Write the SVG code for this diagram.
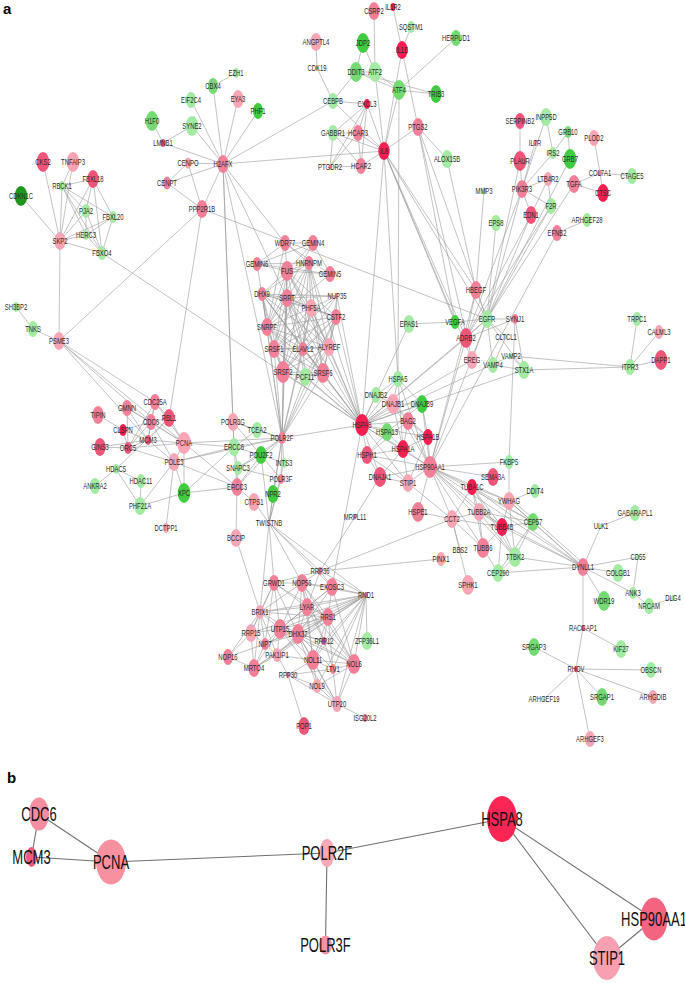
<svg xmlns="http://www.w3.org/2000/svg" width="685" height="983" viewBox="0 0 685 983">
<style>
.e path{stroke:#9a9a9a;stroke-width:.6;fill:none}
.eb path{stroke:#707070;stroke-width:1.1;fill:none}
text{font-family:"Liberation Sans",Arial,sans-serif;fill:#2a2a2a;text-anchor:middle;dominant-baseline:central}
.n text{font-size:9.5px}
.nb text{font-size:21px;fill:#111}
.lbl{font-weight:bold;font-size:15px;text-anchor:start;dominant-baseline:auto;fill:#000}
.r1{fill:#f71e52}.r2{fill:#ef5579}.r3{fill:#f38098}.r4{fill:#f8a5b5}
.g1{fill:#1e961e}.g2{fill:#3fcd3f}.g3{fill:#74db74}.g4{fill:#a3eaa3}
</style>
<rect width="685" height="983" fill="#fff"/>
<text class="lbl" x="3" y="14">a</text>
<text class="lbl" x="7" y="783">b</text>
<g id="edges-a" class="e">
<path d="M43 162L60 241"/><path d="M73 162L60 241"/><path d="M73 162L62 186"/><path d="M93 179L62 186"/><path d="M93 179L60 241"/><path d="M93 179L102 253"/><path d="M93 179L86 211"/><path d="M21 196L60 241"/><path d="M62 186L60 241"/><path d="M62 186L86 211"/><path d="M62 186L113 217"/><path d="M62 186L86 235"/><path d="M62 186L102 253"/><path d="M86 211L60 241"/><path d="M86 211L102 253"/><path d="M86 211L86 235"/><path d="M113 217L60 241"/><path d="M113 217L102 253"/><path d="M113 217L86 235"/><path d="M86 235L60 241"/><path d="M86 235L102 253"/><path d="M60 241L102 253"/><path d="M60 241L59 341"/><path d="M102 253L362 425"/><path d="M16 307L33 329"/><path d="M33 329L59 341"/><path d="M59 341L202 209"/><path d="M59 341L155 402"/><path d="M59 341L151 422"/><path d="M59 341L148 440"/><path d="M59 341L184 443"/><path d="M202 209L169 418"/><path d="M202 209L487 319"/><path d="M93 179L113 217"/>
<path d="M213 86L223 164"/><path d="M213 86L236 73"/><path d="M191 100L223 164"/><path d="M192 126L163 143"/><path d="M192 126L223 164"/><path d="M152 121L163 143"/><path d="M163 143L223 164"/><path d="M188 163L223 164"/><path d="M167 183L223 164"/><path d="M167 183L188 163"/><path d="M167 183L202 209"/><path d="M188 163L202 209"/><path d="M202 209L223 164"/><path d="M238 99L223 164"/><path d="M258 111L223 164"/><path d="M333 101L223 164"/><path d="M384 151L223 164"/><path d="M223 164L285 243"/><path d="M223 164L287 298"/><path d="M223 164L282 438"/><path d="M223 164L234 447"/><path d="M223 164L233 422"/>
<path d="M374 11L375 72"/><path d="M375 72L384 151"/><path d="M393 7L402 50"/><path d="M411 27L402 50"/><path d="M456 38L399 90"/><path d="M363 43L356 72"/><path d="M363 43L375 72"/><path d="M356 72L375 72"/><path d="M356 72L399 90"/><path d="M356 72L436 94"/><path d="M375 72L399 90"/><path d="M399 90L436 94"/><path d="M356 72L333 101"/><path d="M316 42L317 68"/><path d="M317 68L333 101"/><path d="M399 90L384 151"/><path d="M399 90L398 379"/><path d="M402 50L384 151"/><path d="M402 50L418 127"/><path d="M367 104L384 151"/><path d="M367 104L333 133"/><path d="M367 104L358 133"/><path d="M367 104L361 166"/><path d="M367 104L330 167"/><path d="M367 104L333 101"/><path d="M333 133L358 133"/><path d="M333 133L361 166"/><path d="M333 133L330 167"/><path d="M358 133L361 166"/><path d="M358 133L330 167"/><path d="M358 133L384 151"/><path d="M361 166L384 151"/><path d="M333 133L384 151"/><path d="M330 167L361 166"/><path d="M418 127L384 151"/><path d="M447 159L418 127"/><path d="M447 159L476 290"/><path d="M333 101L384 151"/><path d="M384 151L362 425"/><path d="M384 151L398 379"/><path d="M384 151L466 338"/><path d="M384 151L487 319"/><path d="M384 151L476 290"/><path d="M384 151L472 360"/><path d="M384 151L455 322"/><path d="M418 127L487 319"/><path d="M418 127L455 322"/><path d="M418 127L472 360"/>
<path d="M520 121L520 161"/><path d="M546 117L553 153"/><path d="M546 117L522 189"/><path d="M535 143L522 189"/><path d="M568 132L570 159"/><path d="M568 132L553 153"/><path d="M553 153L522 189"/><path d="M520 161L522 189"/><path d="M594 138L600 173"/><path d="M600 173L632 176"/><path d="M600 173L603 193"/><path d="M574 184L603 193"/><path d="M574 184L600 173"/><path d="M548 179L522 189"/><path d="M548 179L551 206"/><path d="M548 179L531 215"/><path d="M522 189L551 206"/><path d="M522 189L531 215"/><path d="M574 184L487 319"/><path d="M557 233L587 220"/><path d="M557 233L430 467"/><path d="M496 223L487 319"/><path d="M484 191L476 290"/><path d="M520 161L487 319"/><path d="M522 189L487 319"/><path d="M522 189L466 338"/><path d="M531 215L487 319"/><path d="M531 215L466 338"/><path d="M551 206L487 319"/><path d="M551 206L466 338"/><path d="M570 159L487 319"/><path d="M476 290L487 319"/><path d="M476 290L466 338"/><path d="M487 319L466 338"/><path d="M487 319L515 319"/><path d="M455 322L487 319"/><path d="M409 324L455 322"/><path d="M487 319L472 360"/><path d="M487 319L506 337"/><path d="M487 319L524 370"/><path d="M487 319L493 365"/><path d="M515 319L524 370"/><path d="M515 319L509 462"/><path d="M511 356L524 370"/><path d="M511 356L630 367"/><path d="M524 370L630 367"/><path d="M493 365L524 370"/><path d="M506 337L493 365"/><path d="M630 367L637 319"/><path d="M630 367L659 332"/><path d="M630 367L661 360"/><path d="M524 370L362 425"/><path d="M487 319L430 467"/><path d="M487 319L362 425"/><path d="M466 338L362 425"/><path d="M466 338L430 467"/><path d="M511 356L362 425"/><path d="M472 360L362 425"/><path d="M476 290L430 467"/><path d="M409 324L362 425"/><path d="M515 319L466 338"/>
<path d="M285 243L313 243"/><path d="M285 243L257 264"/><path d="M285 243L330 274"/><path d="M285 243L267 327"/><path d="M285 243L309 263"/><path d="M285 243L287 271"/><path d="M313 243L257 264"/><path d="M313 243L330 274"/><path d="M313 243L267 327"/><path d="M313 243L287 271"/><path d="M257 264L330 274"/><path d="M257 264L267 327"/><path d="M257 264L287 271"/><path d="M257 264L309 263"/><path d="M330 274L267 327"/><path d="M330 274L287 271"/><path d="M309 263L287 271"/><path d="M309 263L287 298"/><path d="M309 263L274 349"/><path d="M309 263L329 347"/><path d="M309 263L283 372"/><path d="M309 263L262 294"/><path d="M309 263L311 308"/><path d="M309 263L303 349"/><path d="M309 263L323 373"/><path d="M287 271L262 294"/><path d="M287 271L287 298"/><path d="M287 271L274 349"/><path d="M287 271L283 372"/><path d="M287 271L311 308"/><path d="M287 271L303 349"/><path d="M287 271L267 327"/><path d="M287 271L329 347"/><path d="M287 271L336 317"/><path d="M262 294L287 298"/><path d="M262 294L267 327"/><path d="M262 294L274 349"/><path d="M262 294L283 372"/><path d="M262 294L303 349"/><path d="M262 294L329 347"/><path d="M262 294L311 308"/><path d="M262 294L336 317"/><path d="M262 294L323 373"/><path d="M262 294L337 296"/><path d="M287 298L311 308"/><path d="M287 298L336 317"/><path d="M287 298L267 327"/><path d="M287 298L274 349"/><path d="M287 298L283 372"/><path d="M287 298L303 349"/><path d="M287 298L329 347"/><path d="M287 298L337 296"/><path d="M287 298L323 373"/><path d="M287 298L305 377"/><path d="M337 296L329 347"/><path d="M337 296L274 349"/><path d="M337 296L311 308"/><path d="M337 296L283 372"/><path d="M337 296L336 317"/><path d="M311 308L336 317"/><path d="M311 308L267 327"/><path d="M311 308L274 349"/><path d="M311 308L283 372"/><path d="M311 308L303 349"/><path d="M311 308L329 347"/><path d="M311 308L323 373"/><path d="M336 317L267 327"/><path d="M336 317L274 349"/><path d="M336 317L329 347"/><path d="M336 317L305 377"/><path d="M336 317L323 373"/><path d="M336 317L303 349"/><path d="M336 317L283 372"/><path d="M267 327L274 349"/><path d="M267 327L283 372"/><path d="M267 327L303 349"/><path d="M267 327L329 347"/><path d="M267 327L323 373"/><path d="M274 349L303 349"/><path d="M274 349L283 372"/><path d="M274 349L329 347"/><path d="M274 349L323 373"/><path d="M274 349L305 377"/><path d="M303 349L329 347"/><path d="M303 349L283 372"/><path d="M303 349L323 373"/><path d="M303 349L305 377"/><path d="M329 347L283 372"/><path d="M329 347L323 373"/><path d="M329 347L305 377"/><path d="M283 372L305 377"/><path d="M283 372L323 373"/><path d="M305 377L323 373"/>
<path d="M274 349L362 425"/><path d="M283 372L362 425"/><path d="M323 373L362 425"/><path d="M305 377L362 425"/><path d="M303 349L362 425"/><path d="M329 347L362 425"/><path d="M336 317L362 425"/><path d="M337 296L362 425"/><path d="M311 308L362 425"/><path d="M267 327L362 425"/><path d="M262 294L362 425"/><path d="M309 263L362 425"/><path d="M287 271L362 425"/><path d="M287 298L362 425"/>
<path d="M274 349L282 438"/><path d="M283 372L282 438"/><path d="M305 377L282 438"/><path d="M267 327L282 438"/><path d="M287 298L282 438"/><path d="M303 349L282 438"/><path d="M323 373L282 438"/><path d="M336 317L282 438"/><path d="M329 347L282 438"/><path d="M262 294L282 438"/><path d="M287 271L282 438"/><path d="M311 308L282 438"/>
<path d="M155 402L151 422"/><path d="M155 402L169 418"/><path d="M155 402L184 443"/><path d="M155 402L148 440"/><path d="M155 402L128 448"/><path d="M127 408L151 422"/><path d="M127 408L148 440"/><path d="M127 408L128 448"/><path d="M127 408L184 443"/><path d="M98 415L123 430"/><path d="M169 418L151 422"/><path d="M169 418L184 443"/><path d="M169 418L148 440"/><path d="M169 418L116 469"/><path d="M116 469L95 486"/><path d="M116 469L141 481"/><path d="M116 469L140 506"/><path d="M141 481L140 506"/><path d="M140 506L174 462"/><path d="M140 506L184 493"/><path d="M184 493L237 487"/><path d="M184 493L174 462"/><path d="M184 493L234 447"/><path d="M174 462L166 528"/><path d="M174 462L184 443"/><path d="M174 462L151 422"/><path d="M174 462L148 440"/><path d="M174 462L128 448"/><path d="M174 462L234 447"/><path d="M174 462L237 487"/><path d="M174 462L282 438"/><path d="M123 430L151 422"/><path d="M123 430L148 440"/><path d="M123 430L128 448"/><path d="M148 440L184 443"/><path d="M148 440L128 448"/><path d="M148 440L151 422"/><path d="M128 448L100 447"/><path d="M128 448L151 422"/><path d="M128 448L184 443"/><path d="M100 447L148 440"/><path d="M184 443L234 447"/><path d="M184 443L282 438"/><path d="M184 443L151 422"/><path d="M184 443L237 487"/><path d="M184 443L184 493"/><path d="M233 422L282 438"/><path d="M233 422L257 430"/><path d="M233 422L234 447"/><path d="M233 422L281 479"/><path d="M257 430L282 438"/><path d="M257 430L234 447"/><path d="M234 447L282 438"/><path d="M234 447L261 455"/><path d="M234 447L238 468"/><path d="M234 447L237 487"/><path d="M261 455L282 438"/><path d="M261 455L238 468"/><path d="M261 455L237 487"/><path d="M261 455L284 463"/><path d="M284 463L282 438"/><path d="M238 468L282 438"/><path d="M281 479L282 438"/><path d="M281 479L238 468"/><path d="M273 494L269 523"/><path d="M254 502L269 523"/><path d="M254 502L237 487"/><path d="M237 487L282 438"/><path d="M237 487L238 468"/><path d="M282 438L269 523"/><path d="M281 479L269 523"/><path d="M261 455L269 523"/><path d="M284 463L269 523"/><path d="M282 438L362 425"/><path d="M282 438L273 494"/><path d="M236 538L237 487"/><path d="M236 538L260 612"/><path d="M269 523L274 583"/><path d="M269 523L260 612"/><path d="M269 523L302 583"/><path d="M269 523L320 571"/><path d="M269 523L366 595"/><path d="M269 523L332 587"/>
<path d="M362 425L376 395"/><path d="M362 425L393 404"/><path d="M362 425L422 404"/><path d="M362 425L408 421"/><path d="M362 425L387 432"/><path d="M362 425L428 437"/><path d="M362 425L403 449"/><path d="M362 425L367 455"/><path d="M362 425L380 477"/><path d="M362 425L408 483"/><path d="M362 425L430 467"/><path d="M362 425L398 379"/><path d="M398 379L393 404"/><path d="M398 379L422 404"/><path d="M398 379L430 467"/><path d="M398 379L376 395"/><path d="M398 379L403 449"/><path d="M376 395L393 404"/><path d="M393 404L422 404"/><path d="M393 404L408 421"/><path d="M393 404L403 449"/><path d="M393 404L428 437"/><path d="M393 404L430 467"/><path d="M422 404L428 437"/><path d="M422 404L430 467"/><path d="M422 404L387 432"/><path d="M408 421L403 449"/><path d="M408 421L428 437"/><path d="M408 421L430 467"/><path d="M408 421L367 455"/><path d="M387 432L403 449"/><path d="M387 432L367 455"/><path d="M428 437L430 467"/><path d="M428 437L403 449"/><path d="M428 437L408 483"/><path d="M403 449L367 455"/><path d="M403 449L430 467"/><path d="M403 449L408 483"/><path d="M403 449L380 477"/><path d="M367 455L380 477"/><path d="M367 455L408 483"/><path d="M367 455L430 467"/><path d="M380 477L408 483"/><path d="M380 477L430 467"/><path d="M408 483L430 467"/><path d="M362 425L332 587"/><path d="M380 477L355 517"/><path d="M355 517L320 571"/><path d="M418 512L452 519"/><path d="M418 512L430 467"/>
<path d="M430 467L472 487"/><path d="M430 467L452 519"/><path d="M430 467L479 512"/><path d="M430 467L502 527"/><path d="M430 467L483 548"/><path d="M430 467L509 501"/><path d="M430 467L509 462"/><path d="M430 467L493 477"/><path d="M430 467L533 522"/><path d="M430 467L583 567"/><path d="M430 467L515 557"/><path d="M408 483L452 519"/>
<path d="M509 462L509 501"/><path d="M472 487L509 501"/><path d="M472 487L479 512"/><path d="M472 487L502 527"/><path d="M472 487L483 548"/><path d="M472 487L452 519"/><path d="M472 487L533 522"/><path d="M472 487L515 557"/><path d="M472 487L583 567"/><path d="M509 501L535 491"/><path d="M509 501L533 522"/><path d="M509 501L515 557"/><path d="M509 501L583 567"/><path d="M511 499L584 564"/><path d="M509 501L502 527"/><path d="M452 519L479 512"/><path d="M452 519L502 527"/><path d="M452 519L483 548"/><path d="M452 519L468 585"/><path d="M452 519L460 550"/><path d="M479 512L502 527"/><path d="M479 512L483 548"/><path d="M479 512L533 522"/><path d="M479 512L515 557"/><path d="M479 512L583 567"/><path d="M502 527L483 548"/><path d="M502 527L515 557"/><path d="M502 527L498 573"/><path d="M502 527L533 522"/><path d="M502 527L583 567"/><path d="M483 548L498 573"/><path d="M515 557L498 573"/><path d="M515 557L533 522"/><path d="M515 557L583 567"/><path d="M533 522L583 567"/><path d="M498 573L583 567"/><path d="M498 573L533 522"/><path d="M583 567L601 526"/><path d="M601 526L635 513"/><path d="M583 567L638 557"/><path d="M583 567L618 573"/><path d="M583 567L604 601"/><path d="M583 567L633 593"/><path d="M583 567L583 628"/><path d="M638 557L633 593"/><path d="M633 593L649 606"/><path d="M649 606L673 598"/><path d="M583 628L621 649"/><path d="M583 628L576 669"/><path d="M576 669L534 647"/><path d="M576 669L651 670"/><path d="M576 669L544 699"/><path d="M576 669L602 697"/><path d="M576 669L653 697"/><path d="M576 669L590 739"/><path d="M320 571L452 519"/><path d="M320 571L441 559"/>
<path d="M320 571L302 583"/><path d="M320 571L332 587"/><path d="M320 571L366 595"/><path d="M320 571L274 583"/><path d="M320 571L307 607"/><path d="M274 583L302 583"/><path d="M274 583L260 612"/><path d="M274 583L280 629"/><path d="M274 583L307 607"/><path d="M274 583L328 617"/><path d="M274 583L298 634"/><path d="M274 583L265 644"/><path d="M274 583L251 633"/><path d="M302 583L332 587"/><path d="M302 583L307 607"/><path d="M302 583L328 617"/><path d="M302 583L280 629"/><path d="M302 583L298 634"/><path d="M302 583L260 612"/><path d="M302 583L313 660"/><path d="M302 583L366 595"/><path d="M302 583L324 641"/><path d="M302 583L354 664"/><path d="M332 587L366 595"/><path d="M332 587L307 607"/><path d="M332 587L328 617"/><path d="M332 587L298 634"/><path d="M332 587L280 629"/><path d="M332 587L354 664"/><path d="M366 595L260 612"/><path d="M366 595L307 607"/><path d="M366 595L328 617"/><path d="M366 595L280 629"/><path d="M366 595L298 634"/><path d="M366 595L265 644"/><path d="M366 595L313 660"/><path d="M366 595L354 664"/><path d="M366 595L333 669"/><path d="M366 595L337 704"/><path d="M366 595L324 641"/><path d="M366 595L254 668"/><path d="M366 595L277 655"/><path d="M366 595L367 641"/><path d="M366 595L317 686"/><path d="M366 595L251 633"/><path d="M260 612L307 607"/><path d="M260 612L328 617"/><path d="M260 612L251 633"/><path d="M260 612L280 629"/><path d="M260 612L265 644"/><path d="M260 612L228 657"/><path d="M260 612L254 668"/><path d="M260 612L298 634"/><path d="M260 612L277 655"/><path d="M307 607L328 617"/><path d="M307 607L280 629"/><path d="M307 607L298 634"/><path d="M307 607L313 660"/><path d="M307 607L324 641"/><path d="M307 607L354 664"/><path d="M328 617L280 629"/><path d="M328 617L298 634"/><path d="M328 617L324 641"/><path d="M328 617L313 660"/><path d="M328 617L354 664"/><path d="M328 617L265 644"/><path d="M328 617L254 668"/><path d="M328 617L333 669"/><path d="M251 633L280 629"/><path d="M251 633L265 644"/><path d="M251 633L228 657"/><path d="M251 633L254 668"/><path d="M280 629L298 634"/><path d="M280 629L265 644"/><path d="M280 629L277 655"/><path d="M280 629L313 660"/><path d="M280 629L254 668"/><path d="M280 629L324 641"/><path d="M280 629L354 664"/><path d="M280 629L337 704"/><path d="M298 634L324 641"/><path d="M298 634L313 660"/><path d="M298 634L265 644"/><path d="M298 634L277 655"/><path d="M298 634L333 669"/><path d="M298 634L354 664"/><path d="M298 634L337 704"/><path d="M298 634L317 686"/><path d="M324 641L354 664"/><path d="M324 641L313 660"/><path d="M324 641L333 669"/><path d="M265 644L277 655"/><path d="M265 644L254 668"/><path d="M265 644L228 657"/><path d="M277 655L254 668"/><path d="M277 655L313 660"/><path d="M277 655L288 675"/><path d="M228 657L254 668"/><path d="M313 660L354 664"/><path d="M313 660L333 669"/><path d="M313 660L288 675"/><path d="M313 660L317 686"/><path d="M313 660L337 704"/><path d="M354 664L333 669"/><path d="M354 664L337 704"/><path d="M354 664L317 686"/><path d="M333 669L288 675"/><path d="M333 669L337 704"/><path d="M288 675L317 686"/><path d="M288 675L304 726"/><path d="M288 675L337 704"/><path d="M317 686L337 704"/><path d="M337 704L365 718"/>
</g>
<g id="edges-b" class="eb">
<path d="M39 814L31.5 857"/><path d="M39 814L111 862"/><path d="M31.5 857L111 862"/><path d="M111 862L327 853"/><path d="M327 853L325.5 945"/><path d="M327 853L502 819"/><path d="M502 819L654 919"/><path d="M502 819L607 958"/><path d="M654 919L607 958"/>
</g>
<g id="nodes-a" class="n">
<g id="n-CBX4"><ellipse cx="213" cy="86" rx="5" ry="8" class="g3"/><text transform="translate(213 86) scale(.62 1)">CBX4</text></g>
<g id="n-EIF2C4"><ellipse cx="191" cy="100" rx="5" ry="8" class="g4"/><text transform="translate(191 100) scale(.62 1)">EIF2C4</text></g>
<g id="n-H1F0"><ellipse cx="152" cy="121" rx="6.3" ry="10" class="g3"/><text transform="translate(152 121) scale(.62 1)">H1F0</text></g>
<g id="n-SYNE2"><ellipse cx="192" cy="126" rx="6.3" ry="10" class="g4"/><text transform="translate(192 126) scale(.62 1)">SYNE2</text></g>
<g id="n-LMNB1"><ellipse cx="163" cy="143" rx="2.5" ry="4" class="r2"/><text transform="translate(163 143) scale(.62 1)">LMNB1</text></g>
<g id="n-CKS2"><ellipse cx="43" cy="162" rx="6.3" ry="10" class="r2"/><text transform="translate(43 162) scale(.62 1)">CKS2</text></g>
<g id="n-TNFAIP3"><ellipse cx="73" cy="162" rx="6.3" ry="10" class="r4"/><text transform="translate(73 162) scale(.62 1)">TNFAIP3</text></g>
<g id="n-H2AFX"><ellipse cx="223" cy="164" rx="5.7" ry="9" class="r3"/><text transform="translate(223 164) scale(.62 1)">H2AFX</text></g>
<g id="n-CENPO"><ellipse cx="188" cy="163" rx="3.5" ry="5.5" class="r4"/><text transform="translate(188 163) scale(.62 1)">CENPO</text></g>
<g id="n-CENPT"><ellipse cx="167" cy="183" rx="4.1" ry="6.5" class="r3"/><text transform="translate(167 183) scale(.62 1)">CENPT</text></g>
<g id="n-FBXL18"><ellipse cx="93" cy="179" rx="5.7" ry="9" class="r2"/><text transform="translate(93 179) scale(.62 1)">FBXL18</text></g>
<g id="n-RBCK1"><ellipse cx="62" cy="186" rx="3.2" ry="5" class="g4"/><text transform="translate(62 186) scale(.62 1)">RBCK1</text></g>
<g id="n-CDKN1C"><ellipse cx="21" cy="196" rx="6.3" ry="10" class="g1"/><text transform="translate(21 196) scale(.62 1)">CDKN1C</text></g>
<g id="n-PJA2"><ellipse cx="86" cy="211" rx="4.4" ry="7" class="g4"/><text transform="translate(86 211) scale(.62 1)">PJA2</text></g>
<g id="n-FBXL20"><ellipse cx="113" cy="217" rx="3.8" ry="6" class="g4"/><text transform="translate(113 217) scale(.62 1)">FBXL20</text></g>
<g id="n-PPP2R1B"><ellipse cx="202" cy="209" rx="5.7" ry="9" class="r3"/><text transform="translate(202 209) scale(.62 1)">PPP2R1B</text></g>
<g id="n-CSRP2"><ellipse cx="374" cy="11" rx="5.7" ry="9" class="r3"/><text transform="translate(374 11) scale(.62 1)">CSRP2</text></g>
<g id="n-IL1R2"><ellipse cx="393" cy="7" rx="2.5" ry="4" class="r1"/><text transform="translate(393 7) scale(.62 1)">IL1R2</text></g>
<g id="n-SQSTM1"><ellipse cx="411" cy="27" rx="3.8" ry="6" class="g4"/><text transform="translate(411 27) scale(.62 1)">SQSTM1</text></g>
<g id="n-ANGPTL4"><ellipse cx="316" cy="42" rx="5.7" ry="9" class="r4"/><text transform="translate(316 42) scale(.62 1)">ANGPTL4</text></g>
<g id="n-JDP2"><ellipse cx="363" cy="43" rx="6.3" ry="10" class="g2"/><text transform="translate(363 43) scale(.62 1)">JDP2</text></g>
<g id="n-IL1B"><ellipse cx="402" cy="50" rx="5.7" ry="9" class="r1"/><text transform="translate(402 50) scale(.62 1)">IL1B</text></g>
<g id="n-HERPUD1"><ellipse cx="456" cy="38" rx="5" ry="8" class="g3"/><text transform="translate(456 38) scale(.62 1)">HERPUD1</text></g>
<g id="n-CDK19"><ellipse cx="317" cy="68" rx="1.6" ry="2.5" class="g4"/><text transform="translate(317 68) scale(.62 1)">CDK19</text></g>
<g id="n-DDIT3"><ellipse cx="356" cy="72" rx="6.3" ry="10" class="g3"/><text transform="translate(356 72) scale(.62 1)">DDIT3</text></g>
<g id="n-ATF2"><ellipse cx="375" cy="72" rx="6.3" ry="10" class="g4"/><text transform="translate(375 72) scale(.62 1)">ATF2</text></g>
<g id="n-EZH1"><ellipse cx="236" cy="73" rx="3.2" ry="5" class="g4"/><text transform="translate(236 73) scale(.62 1)">EZH1</text></g>
<g id="n-ATF4"><ellipse cx="399" cy="90" rx="6.3" ry="10" class="g3"/><text transform="translate(399 90) scale(.62 1)">ATF4</text></g>
<g id="n-TRIB3"><ellipse cx="436" cy="94" rx="5.7" ry="9" class="g2"/><text transform="translate(436 94) scale(.62 1)">TRIB3</text></g>
<g id="n-EYA3"><ellipse cx="238" cy="99" rx="5.7" ry="9" class="r4"/><text transform="translate(238 99) scale(.62 1)">EYA3</text></g>
<g id="n-PHF1"><ellipse cx="258" cy="111" rx="5" ry="8" class="g2"/><text transform="translate(258 111) scale(.62 1)">PHF1</text></g>
<g id="n-CEBPB"><ellipse cx="333" cy="101" rx="5" ry="8" class="g4"/><text transform="translate(333 101) scale(.62 1)">CEBPB</text></g>
<g id="n-CXCL3"><ellipse cx="367" cy="104" rx="3.2" ry="5" class="r1"/><text transform="translate(367 104) scale(.62 1)">CXCL3</text></g>
<g id="n-PTGS2"><ellipse cx="418" cy="127" rx="5.7" ry="9" class="r3"/><text transform="translate(418 127) scale(.62 1)">PTGS2</text></g>
<g id="n-GABBR1"><ellipse cx="333" cy="133" rx="5" ry="8" class="g4"/><text transform="translate(333 133) scale(.62 1)">GABBR1</text></g>
<g id="n-HCAR3"><ellipse cx="358" cy="133" rx="5" ry="8" class="r3"/><text transform="translate(358 133) scale(.62 1)">HCAR3</text></g>
<g id="n-IL8"><ellipse cx="384" cy="151" rx="5.7" ry="9" class="r1"/><text transform="translate(384 151) scale(.62 1)">IL8</text></g>
<g id="n-PTGDR2"><ellipse cx="330" cy="167" rx="1.6" ry="2.5" class="r3"/><text transform="translate(330 167) scale(.62 1)">PTGDR2</text></g>
<g id="n-HCAR2"><ellipse cx="361" cy="166" rx="5" ry="8" class="r3"/><text transform="translate(361 166) scale(.62 1)">HCAR2</text></g>
<g id="n-ALOX15B"><ellipse cx="447" cy="159" rx="5.7" ry="9" class="g4"/><text transform="translate(447 159) scale(.62 1)">ALOX15B</text></g>
<g id="n-SERPINB2"><ellipse cx="520" cy="121" rx="5" ry="8" class="r2"/><text transform="translate(520 121) scale(.62 1)">SERPINB2</text></g>
<g id="n-INPP5D"><ellipse cx="546" cy="117" rx="5.7" ry="9" class="g4"/><text transform="translate(546 117) scale(.62 1)">INPP5D</text></g>
<g id="n-GRB10"><ellipse cx="568" cy="132" rx="3.8" ry="6" class="g3"/><text transform="translate(568 132) scale(.62 1)">GRB10</text></g>
<g id="n-PLOD2"><ellipse cx="594" cy="138" rx="5" ry="8" class="r4"/><text transform="translate(594 138) scale(.62 1)">PLOD2</text></g>
<g id="n-IL7R"><ellipse cx="535" cy="143" rx="1.9" ry="3" class="r3"/><text transform="translate(535 143) scale(.62 1)">IL7R</text></g>
<g id="n-IRS2"><ellipse cx="553" cy="153" rx="3.8" ry="6" class="g4"/><text transform="translate(553 153) scale(.62 1)">IRS2</text></g>
<g id="n-GRB7"><ellipse cx="570" cy="159" rx="6.3" ry="10" class="g2"/><text transform="translate(570 159) scale(.62 1)">GRB7</text></g>
<g id="n-PLAUR"><ellipse cx="520" cy="161" rx="6.3" ry="10" class="r2"/><text transform="translate(520 161) scale(.62 1)">PLAUR</text></g>
<g id="n-COL7A1"><ellipse cx="600" cy="173" rx="1.9" ry="3" class="r3"/><text transform="translate(600 173) scale(.62 1)">COL7A1</text></g>
<g id="n-CTAGE5"><ellipse cx="632" cy="176" rx="5" ry="8" class="g4"/><text transform="translate(632 176) scale(.62 1)">CTAGE5</text></g>
<g id="n-LTB4R2"><ellipse cx="548" cy="179" rx="4.4" ry="7" class="r4"/><text transform="translate(548 179) scale(.62 1)">LTB4R2</text></g>
<g id="n-TGFA"><ellipse cx="574" cy="184" rx="5.7" ry="9" class="r3"/><text transform="translate(574 184) scale(.62 1)">TGFA</text></g>
<g id="n-PIK3R3"><ellipse cx="522" cy="189" rx="5.7" ry="9" class="r3"/><text transform="translate(522 189) scale(.62 1)">PIK3R3</text></g>
<g id="n-CTSC"><ellipse cx="603" cy="193" rx="5.7" ry="9" class="r1"/><text transform="translate(603 193) scale(.62 1)">CTSC</text></g>
<g id="n-MMP3"><ellipse cx="484" cy="191" rx="2.2" ry="3.5" class="g4"/><text transform="translate(484 191) scale(.62 1)">MMP3</text></g>
<g id="n-F2R"><ellipse cx="551" cy="206" rx="5" ry="8" class="g4"/><text transform="translate(551 206) scale(.62 1)">F2R</text></g>
<g id="n-EDN1"><ellipse cx="531" cy="215" rx="5.7" ry="9" class="r2"/><text transform="translate(531 215) scale(.62 1)">EDN1</text></g>
<g id="n-EPS8"><ellipse cx="496" cy="223" rx="5" ry="8" class="g4"/><text transform="translate(496 223) scale(.62 1)">EPS8</text></g>
<g id="n-ARHGEF28"><ellipse cx="587" cy="220" rx="4.4" ry="7" class="g4"/><text transform="translate(587 220) scale(.62 1)">ARHGEF28</text></g>
<g id="n-EFNB2"><ellipse cx="557" cy="233" rx="5" ry="8" class="r3"/><text transform="translate(557 233) scale(.62 1)">EFNB2</text></g>
<g id="n-HBEGF"><ellipse cx="476" cy="290" rx="5.7" ry="9" class="r3"/><text transform="translate(476 290) scale(.62 1)">HBEGF</text></g>
<g id="n-EGFR"><ellipse cx="487" cy="319" rx="5.7" ry="9" class="g4"/><text transform="translate(487 319) scale(.62 1)">EGFR</text></g>
<g id="n-SYNJ1"><ellipse cx="515" cy="319" rx="3.2" ry="5" class="r3"/><text transform="translate(515 319) scale(.62 1)">SYNJ1</text></g>
<g id="n-VEGFA"><ellipse cx="455" cy="322" rx="4.4" ry="7" class="g2"/><text transform="translate(455 322) scale(.62 1)">VEGFA</text></g>
<g id="n-ADRB2"><ellipse cx="466" cy="338" rx="6.3" ry="10" class="r2"/><text transform="translate(466 338) scale(.62 1)">ADRB2</text></g>
<g id="n-CLTCL1"><ellipse cx="506" cy="337" rx="1.6" ry="2.5" class="g4"/><text transform="translate(506 337) scale(.62 1)">CLTCL1</text></g>
<g id="n-VAMP2"><ellipse cx="511" cy="356" rx="1.6" ry="2.5" class="g4"/><text transform="translate(511 356) scale(.62 1)">VAMP2</text></g>
<g id="n-EREG"><ellipse cx="472" cy="360" rx="5.7" ry="9" class="r4"/><text transform="translate(472 360) scale(.62 1)">EREG</text></g>
<g id="n-VAMP4"><ellipse cx="493" cy="365" rx="5" ry="8" class="g4"/><text transform="translate(493 365) scale(.62 1)">VAMP4</text></g>
<g id="n-STX1A"><ellipse cx="524" cy="370" rx="5.7" ry="9" class="g4"/><text transform="translate(524 370) scale(.62 1)">STX1A</text></g>
<g id="n-TRPC1"><ellipse cx="637" cy="319" rx="4.4" ry="7" class="g4"/><text transform="translate(637 319) scale(.62 1)">TRPC1</text></g>
<g id="n-CALML3"><ellipse cx="659" cy="332" rx="4.4" ry="7" class="r4"/><text transform="translate(659 332) scale(.62 1)">CALML3</text></g>
<g id="n-DAPP1"><ellipse cx="661" cy="360" rx="6.3" ry="10" class="r2"/><text transform="translate(661 360) scale(.62 1)">DAPP1</text></g>
<g id="n-ITPR3"><ellipse cx="630" cy="367" rx="5" ry="8" class="g4"/><text transform="translate(630 367) scale(.62 1)">ITPR3</text></g>
<g id="n-WDR77"><ellipse cx="285" cy="243" rx="5" ry="8" class="r3"/><text transform="translate(285 243) scale(.62 1)">WDR77</text></g>
<g id="n-GEMIN4"><ellipse cx="313" cy="243" rx="5" ry="8" class="r3"/><text transform="translate(313 243) scale(.62 1)">GEMIN4</text></g>
<g id="n-GEMIN6"><ellipse cx="257" cy="264" rx="4.4" ry="7" class="r3"/><text transform="translate(257 264) scale(.62 1)">GEMIN6</text></g>
<g id="n-HNRNPM"><ellipse cx="309" cy="263" rx="4.4" ry="7" class="r3"/><text transform="translate(309 263) scale(.62 1)">HNRNPM</text></g>
<g id="n-FUS"><ellipse cx="287" cy="271" rx="6.3" ry="10" class="r3"/><text transform="translate(287 271) scale(.62 1)">FUS</text></g>
<g id="n-GEMIN5"><ellipse cx="330" cy="274" rx="5" ry="8" class="r3"/><text transform="translate(330 274) scale(.62 1)">GEMIN5</text></g>
<g id="n-DHX9"><ellipse cx="262" cy="294" rx="4.4" ry="7" class="r3"/><text transform="translate(262 294) scale(.62 1)">DHX9</text></g>
<g id="n-SRRT"><ellipse cx="287" cy="298" rx="5.7" ry="9" class="r3"/><text transform="translate(287 298) scale(.62 1)">SRRT</text></g>
<g id="n-NUP35"><ellipse cx="337" cy="296" rx="1.6" ry="2.5" class="r4"/><text transform="translate(337 296) scale(.62 1)">NUP35</text></g>
<g id="n-PHF5A"><ellipse cx="311" cy="308" rx="5.7" ry="9" class="r4"/><text transform="translate(311 308) scale(.62 1)">PHF5A</text></g>
<g id="n-CSTF2"><ellipse cx="336" cy="317" rx="5" ry="8" class="r3"/><text transform="translate(336 317) scale(.62 1)">CSTF2</text></g>
<g id="n-SNRPF"><ellipse cx="267" cy="327" rx="5.7" ry="9" class="r3"/><text transform="translate(267 327) scale(.62 1)">SNRPF</text></g>
<g id="n-EPAS1"><ellipse cx="409" cy="324" rx="5.7" ry="9" class="g4"/><text transform="translate(409 324) scale(.62 1)">EPAS1</text></g>
<g id="n-SRSF1"><ellipse cx="274" cy="349" rx="5.7" ry="9" class="r3"/><text transform="translate(274 349) scale(.62 1)">SRSF1</text></g>
<g id="n-ELAVL2"><ellipse cx="303" cy="349" rx="4.4" ry="7" class="r3"/><text transform="translate(303 349) scale(.62 1)">ELAVL2</text></g>
<g id="n-ALYREF"><ellipse cx="329" cy="347" rx="5.7" ry="9" class="r4"/><text transform="translate(329 347) scale(.62 1)">ALYREF</text></g>
<g id="n-SRSF2"><ellipse cx="283" cy="372" rx="6.9" ry="11" class="r3"/><text transform="translate(283 372) scale(.62 1)">SRSF2</text></g>
<g id="n-PCF11"><ellipse cx="305" cy="377" rx="5.7" ry="9" class="g4"/><text transform="translate(305 377) scale(.62 1)">PCF11</text></g>
<g id="n-SRSF6"><ellipse cx="323" cy="373" rx="6.3" ry="10" class="r3"/><text transform="translate(323 373) scale(.62 1)">SRSF6</text></g>
<g id="n-HSPA5"><ellipse cx="398" cy="379" rx="5" ry="8" class="g4"/><text transform="translate(398 379) scale(.62 1)">HSPA5</text></g>
<g id="n-DNAJB2"><ellipse cx="376" cy="395" rx="5" ry="8" class="g4"/><text transform="translate(376 395) scale(.62 1)">DNAJB2</text></g>
<g id="n-DNAJB1"><ellipse cx="393" cy="404" rx="6.3" ry="10" class="r4"/><text transform="translate(393 404) scale(.62 1)">DNAJB1</text></g>
<g id="n-DNAJB9"><ellipse cx="422" cy="404" rx="5.7" ry="9" class="g2"/><text transform="translate(422 404) scale(.62 1)">DNAJB9</text></g>
<g id="n-POLR3G"><ellipse cx="233" cy="422" rx="5.7" ry="9" class="r4"/><text transform="translate(233 422) scale(.62 1)">POLR3G</text></g>
<g id="n-HSPA8"><ellipse cx="362" cy="425" rx="6.9" ry="11" class="r1"/><text transform="translate(362 425) scale(.62 1)">HSPA8</text></g>
<g id="n-BAG2"><ellipse cx="408" cy="421" rx="5.7" ry="9" class="r3"/><text transform="translate(408 421) scale(.62 1)">BAG2</text></g>
<g id="n-TCEA2"><ellipse cx="257" cy="430" rx="5" ry="8" class="g4"/><text transform="translate(257 430) scale(.62 1)">TCEA2</text></g>
<g id="n-HSPA13"><ellipse cx="387" cy="432" rx="5.7" ry="9" class="g3"/><text transform="translate(387 432) scale(.62 1)">HSPA13</text></g>
<g id="n-POLR2F"><ellipse cx="282" cy="438" rx="3.8" ry="6" class="r3"/><text transform="translate(282 438) scale(.62 1)">POLR2F</text></g>
<g id="n-HSPA1B"><ellipse cx="428" cy="437" rx="5" ry="8" class="r1"/><text transform="translate(428 437) scale(.62 1)">HSPA1B</text></g>
<g id="n-ERCC6"><ellipse cx="234" cy="447" rx="5.7" ry="9" class="g4"/><text transform="translate(234 447) scale(.62 1)">ERCC6</text></g>
<g id="n-HSPA1A"><ellipse cx="403" cy="449" rx="5.7" ry="9" class="r1"/><text transform="translate(403 449) scale(.62 1)">HSPA1A</text></g>
<g id="n-POU2F2"><ellipse cx="261" cy="455" rx="5.7" ry="9" class="g2"/><text transform="translate(261 455) scale(.62 1)">POU2F2</text></g>
<g id="n-HSPH1"><ellipse cx="367" cy="455" rx="5.7" ry="9" class="r2"/><text transform="translate(367 455) scale(.62 1)">HSPH1</text></g>
<g id="n-INTS3"><ellipse cx="284" cy="463" rx="3.2" ry="5" class="g4"/><text transform="translate(284 463) scale(.62 1)">INTS3</text></g>
<g id="n-SNAPC3"><ellipse cx="238" cy="468" rx="4.4" ry="7" class="g4"/><text transform="translate(238 468) scale(.62 1)">SNAPC3</text></g>
<g id="n-POLR3F"><ellipse cx="281" cy="479" rx="3.2" ry="5" class="r3"/><text transform="translate(281 479) scale(.62 1)">POLR3F</text></g>
<g id="n-ERCC3"><ellipse cx="237" cy="487" rx="5.7" ry="9" class="r3"/><text transform="translate(237 487) scale(.62 1)">ERCC3</text></g>
<g id="n-NPR2"><ellipse cx="273" cy="494" rx="5.7" ry="9" class="g2"/><text transform="translate(273 494) scale(.62 1)">NPR2</text></g>
<g id="n-XPC"><ellipse cx="184" cy="493" rx="6.3" ry="10" class="g2"/><text transform="translate(184 493) scale(.62 1)">XPC</text></g>
<g id="n-PCNA"><ellipse cx="184" cy="443" rx="6.9" ry="11" class="r4"/><text transform="translate(184 443) scale(.62 1)">PCNA</text></g>
<g id="n-HSP90AA1"><ellipse cx="430" cy="467" rx="6.9" ry="11" class="r3"/><text transform="translate(430 467) scale(.62 1)">HSP90AA1</text></g>
<g id="n-DNAJA1"><ellipse cx="380" cy="477" rx="6.3" ry="10" class="r2"/><text transform="translate(380 477) scale(.62 1)">DNAJA1</text></g>
<g id="n-STIP1"><ellipse cx="408" cy="483" rx="5.7" ry="9" class="r4"/><text transform="translate(408 483) scale(.62 1)">STIP1</text></g>
<g id="n-TUBA1C"><ellipse cx="472" cy="487" rx="5" ry="8" class="r1"/><text transform="translate(472 487) scale(.62 1)">TUBA1C</text></g>
<g id="n-SKP2"><ellipse cx="60" cy="241" rx="5.7" ry="9" class="r4"/><text transform="translate(60 241) scale(.62 1)">SKP2</text></g>
<g id="n-HERC3"><ellipse cx="86" cy="235" rx="3.2" ry="5" class="g4"/><text transform="translate(86 235) scale(.62 1)">HERC3</text></g>
<g id="n-FBXO4"><ellipse cx="102" cy="253" rx="4.4" ry="7" class="g4"/><text transform="translate(102 253) scale(.62 1)">FBXO4</text></g>
<g id="n-SH3BP2"><ellipse cx="16" cy="307" rx="3.2" ry="5" class="g4"/><text transform="translate(16 307) scale(.62 1)">SH3BP2</text></g>
<g id="n-TNKS"><ellipse cx="33" cy="329" rx="5" ry="8" class="g4"/><text transform="translate(33 329) scale(.62 1)">TNKS</text></g>
<g id="n-PSME3"><ellipse cx="59" cy="341" rx="5.7" ry="9" class="r4"/><text transform="translate(59 341) scale(.62 1)">PSME3</text></g>
<g id="n-CDC25A"><ellipse cx="155" cy="402" rx="5" ry="8" class="r3"/><text transform="translate(155 402) scale(.62 1)">CDC25A</text></g>
<g id="n-GMNN"><ellipse cx="127" cy="408" rx="5" ry="8" class="r3"/><text transform="translate(127 408) scale(.62 1)">GMNN</text></g>
<g id="n-TIPIN"><ellipse cx="98" cy="415" rx="5.7" ry="9" class="r3"/><text transform="translate(98 415) scale(.62 1)">TIPIN</text></g>
<g id="n-RBL1"><ellipse cx="169" cy="418" rx="5.7" ry="9" class="r2"/><text transform="translate(169 418) scale(.62 1)">RBL1</text></g>
<g id="n-CDC6"><ellipse cx="151" cy="422" rx="5" ry="8" class="r3"/><text transform="translate(151 422) scale(.62 1)">CDC6</text></g>
<g id="n-CLSPN"><ellipse cx="123" cy="430" rx="3.8" ry="6" class="r1"/><text transform="translate(123 430) scale(.62 1)">CLSPN</text></g>
<g id="n-MCM3"><ellipse cx="148" cy="440" rx="3.2" ry="5" class="r2"/><text transform="translate(148 440) scale(.62 1)">MCM3</text></g>
<g id="n-GINS3"><ellipse cx="100" cy="447" rx="5.7" ry="9" class="r2"/><text transform="translate(100 447) scale(.62 1)">GINS3</text></g>
<g id="n-ORC5"><ellipse cx="128" cy="448" rx="3.8" ry="6" class="r2"/><text transform="translate(128 448) scale(.62 1)">ORC5</text></g>
<g id="n-POLE3"><ellipse cx="174" cy="462" rx="5.7" ry="9" class="r4"/><text transform="translate(174 462) scale(.62 1)">POLE3</text></g>
<g id="n-HDAC5"><ellipse cx="116" cy="469" rx="3.2" ry="5" class="g4"/><text transform="translate(116 469) scale(.62 1)">HDAC5</text></g>
<g id="n-HDAC11"><ellipse cx="141" cy="481" rx="4.4" ry="7" class="g4"/><text transform="translate(141 481) scale(.62 1)">HDAC11</text></g>
<g id="n-ANKRA2"><ellipse cx="95" cy="486" rx="5" ry="8" class="g4"/><text transform="translate(95 486) scale(.62 1)">ANKRA2</text></g>
<g id="n-PHF21A"><ellipse cx="140" cy="506" rx="5.7" ry="9" class="g4"/><text transform="translate(140 506) scale(.62 1)">PHF21A</text></g>
<g id="n-DCTPP1"><ellipse cx="166" cy="528" rx="3.2" ry="5" class="r4"/><text transform="translate(166 528) scale(.62 1)">DCTPP1</text></g>
<g id="n-CTPS1"><ellipse cx="254" cy="502" rx="5.7" ry="9" class="r4"/><text transform="translate(254 502) scale(.62 1)">CTPS1</text></g>
<g id="n-TWISTNB"><ellipse cx="269" cy="523" rx="1.6" ry="2.5" class="r4"/><text transform="translate(269 523) scale(.62 1)">TWISTNB</text></g>
<g id="n-BCCIP"><ellipse cx="236" cy="538" rx="5.7" ry="9" class="r4"/><text transform="translate(236 538) scale(.62 1)">BCCIP</text></g>
<g id="n-HSPE1"><ellipse cx="418" cy="512" rx="6.3" ry="10" class="r3"/><text transform="translate(418 512) scale(.62 1)">HSPE1</text></g>
<g id="n-MRPL11"><ellipse cx="355" cy="517" rx="1.6" ry="2.5" class="r3"/><text transform="translate(355 517) scale(.62 1)">MRPL11</text></g>
<g id="n-CCT2"><ellipse cx="452" cy="519" rx="5.7" ry="9" class="r4"/><text transform="translate(452 519) scale(.62 1)">CCT2</text></g>
<g id="n-PINX1"><ellipse cx="441" cy="559" rx="4.4" ry="7" class="r4"/><text transform="translate(441 559) scale(.62 1)">PINX1</text></g>
<g id="n-RRP36"><ellipse cx="320" cy="571" rx="2.5" ry="4" class="r3"/><text transform="translate(320 571) scale(.62 1)">RRP36</text></g>
<g id="n-GRWD1"><ellipse cx="274" cy="583" rx="5" ry="8" class="r3"/><text transform="translate(274 583) scale(.62 1)">GRWD1</text></g>
<g id="n-NOP56"><ellipse cx="302" cy="583" rx="5.7" ry="9" class="r3"/><text transform="translate(302 583) scale(.62 1)">NOP56</text></g>
<g id="n-EXOSC3"><ellipse cx="332" cy="587" rx="5.7" ry="9" class="r3"/><text transform="translate(332 587) scale(.62 1)">EXOSC3</text></g>
<g id="n-RND1"><ellipse cx="366" cy="595" rx="1.9" ry="3" class="r3"/><text transform="translate(366 595) scale(.62 1)">RND1</text></g>
<g id="n-BRIX1"><ellipse cx="260" cy="612" rx="4.4" ry="7" class="r4"/><text transform="translate(260 612) scale(.62 1)">BRIX1</text></g>
<g id="n-LYAR"><ellipse cx="307" cy="607" rx="5.7" ry="9" class="r3"/><text transform="translate(307 607) scale(.62 1)">LYAR</text></g>
<g id="n-RRS1"><ellipse cx="328" cy="617" rx="5.7" ry="9" class="r3"/><text transform="translate(328 617) scale(.62 1)">RRS1</text></g>
<g id="n-RRP15"><ellipse cx="251" cy="633" rx="5.7" ry="9" class="r4"/><text transform="translate(251 633) scale(.62 1)">RRP15</text></g>
<g id="n-UTP15"><ellipse cx="280" cy="629" rx="6.3" ry="10" class="r3"/><text transform="translate(280 629) scale(.62 1)">UTP15</text></g>
<g id="n-DHX37"><ellipse cx="298" cy="634" rx="6.3" ry="10" class="r3"/><text transform="translate(298 634) scale(.62 1)">DHX37</text></g>
<g id="n-RRP12"><ellipse cx="324" cy="641" rx="2.5" ry="4" class="r2"/><text transform="translate(324 641) scale(.62 1)">RRP12</text></g>
<g id="n-ZFP36L1"><ellipse cx="367" cy="641" rx="5.7" ry="9" class="g4"/><text transform="translate(367 641) scale(.62 1)">ZFP36L1</text></g>
<g id="n-NIP7"><ellipse cx="265" cy="644" rx="3.8" ry="6" class="r3"/><text transform="translate(265 644) scale(.62 1)">NIP7</text></g>
<g id="n-PAK1IP1"><ellipse cx="277" cy="655" rx="4.4" ry="7" class="r4"/><text transform="translate(277 655) scale(.62 1)">PAK1IP1</text></g>
<g id="n-NOP16"><ellipse cx="228" cy="657" rx="5" ry="8" class="r3"/><text transform="translate(228 657) scale(.62 1)">NOP16</text></g>
<g id="n-NOL11"><ellipse cx="313" cy="660" rx="6.3" ry="10" class="r3"/><text transform="translate(313 660) scale(.62 1)">NOL11</text></g>
<g id="n-MRTO4"><ellipse cx="254" cy="668" rx="5.7" ry="9" class="r3"/><text transform="translate(254 668) scale(.62 1)">MRTO4</text></g>
<g id="n-NOL6"><ellipse cx="354" cy="664" rx="6.3" ry="10" class="r3"/><text transform="translate(354 664) scale(.62 1)">NOL6</text></g>
<g id="n-LTV1"><ellipse cx="333" cy="669" rx="3.2" ry="5" class="r3"/><text transform="translate(333 669) scale(.62 1)">LTV1</text></g>
<g id="n-RPP30"><ellipse cx="288" cy="675" rx="1.9" ry="3" class="r3"/><text transform="translate(288 675) scale(.62 1)">RPP30</text></g>
<g id="n-NOL9"><ellipse cx="317" cy="686" rx="4.4" ry="7" class="r4"/><text transform="translate(317 686) scale(.62 1)">NOL9</text></g>
<g id="n-UTP20"><ellipse cx="337" cy="704" rx="5" ry="8" class="r4"/><text transform="translate(337 704) scale(.62 1)">UTP20</text></g>
<g id="n-ISG20L2"><ellipse cx="365" cy="718" rx="2.5" ry="4" class="r3"/><text transform="translate(365 718) scale(.62 1)">ISG20L2</text></g>
<g id="n-POP1"><ellipse cx="304" cy="726" rx="5.7" ry="9" class="r2"/><text transform="translate(304 726) scale(.62 1)">POP1</text></g>
<g id="n-FKBP5"><ellipse cx="509" cy="462" rx="4.4" ry="7" class="g4"/><text transform="translate(509 462) scale(.62 1)">FKBP5</text></g>
<g id="n-SEMA3A"><ellipse cx="493" cy="477" rx="5.7" ry="9" class="r2"/><text transform="translate(493 477) scale(.62 1)">SEMA3A</text></g>
<g id="n-YWHAG"><ellipse cx="509" cy="501" rx="5.7" ry="9" class="r4"/><text transform="translate(509 501) scale(.62 1)">YWHAG</text></g>
<g id="n-DDIT4"><ellipse cx="535" cy="491" rx="4.4" ry="7" class="g4"/><text transform="translate(535 491) scale(.62 1)">DDIT4</text></g>
<g id="n-TUBB2A"><ellipse cx="479" cy="512" rx="5.7" ry="9" class="r4"/><text transform="translate(479 512) scale(.62 1)">TUBB2A</text></g>
<g id="n-TUBB4B"><ellipse cx="502" cy="527" rx="5.7" ry="9" class="r1"/><text transform="translate(502 527) scale(.62 1)">TUBB4B</text></g>
<g id="n-CEP57"><ellipse cx="533" cy="522" rx="5.7" ry="9" class="g3"/><text transform="translate(533 522) scale(.62 1)">CEP57</text></g>
<g id="n-BBS2"><ellipse cx="460" cy="550" rx="1.6" ry="2.5" class="r4"/><text transform="translate(460 550) scale(.62 1)">BBS2</text></g>
<g id="n-TUBB6"><ellipse cx="483" cy="548" rx="6.3" ry="10" class="r3"/><text transform="translate(483 548) scale(.62 1)">TUBB6</text></g>
<g id="n-TTBK2"><ellipse cx="515" cy="557" rx="6.3" ry="10" class="g4"/><text transform="translate(515 557) scale(.62 1)">TTBK2</text></g>
<g id="n-CEP290"><ellipse cx="498" cy="573" rx="5.7" ry="9" class="g4"/><text transform="translate(498 573) scale(.62 1)">CEP290</text></g>
<g id="n-SPHK1"><ellipse cx="468" cy="585" rx="6.3" ry="10" class="r4"/><text transform="translate(468 585) scale(.62 1)">SPHK1</text></g>
<g id="n-DYNLL1"><ellipse cx="583" cy="567" rx="5.7" ry="9" class="r3"/><text transform="translate(583 567) scale(.62 1)">DYNLL1</text></g>
<g id="n-ULK1"><ellipse cx="601" cy="526" rx="1.6" ry="2.5" class="g4"/><text transform="translate(601 526) scale(.62 1)">ULK1</text></g>
<g id="n-GABARAPL1"><ellipse cx="635" cy="513" rx="5" ry="8" class="g4"/><text transform="translate(635 513) scale(.62 1)">GABARAPL1</text></g>
<g id="n-CD55"><ellipse cx="638" cy="557" rx="1.6" ry="2.5" class="g4"/><text transform="translate(638 557) scale(.62 1)">CD55</text></g>
<g id="n-GOLGB1"><ellipse cx="618" cy="573" rx="5.7" ry="9" class="g4"/><text transform="translate(618 573) scale(.62 1)">GOLGB1</text></g>
<g id="n-ANK3"><ellipse cx="633" cy="593" rx="3.8" ry="6" class="g4"/><text transform="translate(633 593) scale(.62 1)">ANK3</text></g>
<g id="n-WDR19"><ellipse cx="604" cy="601" rx="6.3" ry="10" class="g3"/><text transform="translate(604 601) scale(.62 1)">WDR19</text></g>
<g id="n-NRCAM"><ellipse cx="649" cy="606" rx="5" ry="8" class="g4"/><text transform="translate(649 606) scale(.62 1)">NRCAM</text></g>
<g id="n-DLG4"><ellipse cx="673" cy="598" rx="1.9" ry="3" class="g4"/><text transform="translate(673 598) scale(.62 1)">DLG4</text></g>
<g id="n-RACGAP1"><ellipse cx="583" cy="628" rx="1.9" ry="3" class="r2"/><text transform="translate(583 628) scale(.62 1)">RACGAP1</text></g>
<g id="n-SRGAP3"><ellipse cx="534" cy="647" rx="5.7" ry="9" class="g3"/><text transform="translate(534 647) scale(.62 1)">SRGAP3</text></g>
<g id="n-KIF27"><ellipse cx="621" cy="649" rx="5.7" ry="9" class="g4"/><text transform="translate(621 649) scale(.62 1)">KIF27</text></g>
<g id="n-RHOV"><ellipse cx="576" cy="669" rx="1.9" ry="3" class="r2"/><text transform="translate(576 669) scale(.62 1)">RHOV</text></g>
<g id="n-OBSCN"><ellipse cx="651" cy="670" rx="5" ry="8" class="g4"/><text transform="translate(651 670) scale(.62 1)">OBSCN</text></g>
<g id="n-ARHGEF19"><ellipse cx="544" cy="699" rx="1.3" ry="2" class="g4"/><text transform="translate(544 699) scale(.62 1)">ARHGEF19</text></g>
<g id="n-SRGAP1"><ellipse cx="602" cy="697" rx="5.7" ry="9" class="g3"/><text transform="translate(602 697) scale(.62 1)">SRGAP1</text></g>
<g id="n-ARHGDIB"><ellipse cx="653" cy="697" rx="4.4" ry="7" class="r4"/><text transform="translate(653 697) scale(.62 1)">ARHGDIB</text></g>
<g id="n-ARHGEF3"><ellipse cx="590" cy="739" rx="5" ry="8" class="r4"/><text transform="translate(590 739) scale(.62 1)">ARHGEF3</text></g>
</g>
<g id="nodes-b" class="nb">
<g id="b-CDC6"><ellipse cx="39" cy="814" rx="10" ry="16.5" fill="#f48ea0"/><text transform="translate(39 814) scale(.62 1)">CDC6</text></g>
<g id="b-MCM3"><ellipse cx="31.5" cy="857" rx="5.5" ry="10" fill="#ef5c7e"/><text transform="translate(31.5 857) scale(.62 1)">MCM3</text></g>
<g id="b-PCNA"><ellipse cx="111" cy="862" rx="15" ry="22.5" fill="#f7909f"/><text transform="translate(111 862) scale(.62 1)">PCNA</text></g>
<g id="b-POLR2F"><ellipse cx="327" cy="853" rx="7.5" ry="14" fill="#f8a8b6"/><text transform="translate(327 853) scale(.62 1)">POLR2F</text></g>
<g id="b-POLR3F"><ellipse cx="325.5" cy="945" rx="6.5" ry="9.5" fill="#f493a5"/><text transform="translate(325.5 945) scale(.62 1)">POLR3F</text></g>
<g id="b-HSPA8"><ellipse cx="502" cy="819" rx="15" ry="23" fill="#fb2654"/><text transform="translate(502 819) scale(.62 1)">HSPA8</text></g>
<g id="b-HSP90AA1"><ellipse cx="654" cy="919" rx="13.5" ry="21.5" fill="#f2647f"/><text transform="translate(654 919) scale(.62 1)">HSP90AA1</text></g>
<g id="b-STIP1"><ellipse cx="607" cy="958" rx="14" ry="22" fill="#f8a0b1"/><text transform="translate(607 958) scale(.62 1)">STIP1</text></g>
</g>
</svg>
